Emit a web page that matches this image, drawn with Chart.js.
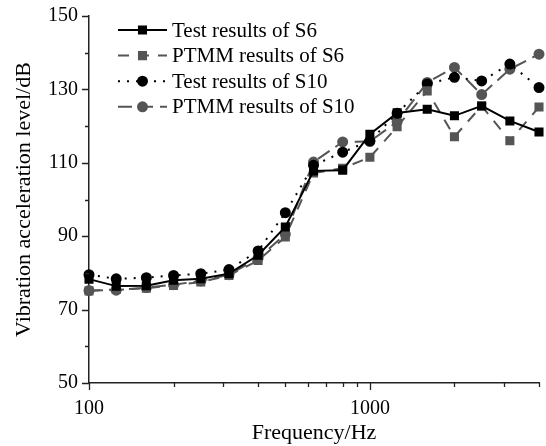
<!DOCTYPE html>
<html>
<head>
<meta charset="utf-8">
<script src="https://cdn.jsdelivr.net/npm/chart.js@4.4.1/dist/chart.umd.min.js"></script>
<style>
  body { margin: 0; background: #fff; }
  #wrap { width: 546px; height: 446px; }
</style>
</head>
<body>
<div id="wrap"><canvas id="vib-chart" width="546" height="446"></canvas></div>
<script>
// 1/3 octave band centre frequencies (Hz)
const freqs = [100, 125, 160, 200, 250, 315, 400, 500, 630, 800, 1000, 1250, 1600, 2000, 2500, 3150, 4000];

// vibration acceleration level, dB
const testS6  = [78.3, 76.4, 76.5, 78.0, 78.4, 79.8, 84.8, 92.5, 107.8, 108.0, 117.8, 123.6, 124.6, 122.8, 125.5, 121.4, 118.4];
const ptmmS6  = [75.1, 75.5, 75.8, 76.6, 77.5, 79.3, 83.4, 89.8, 107.2, 108.5, 111.5, 119.8, 129.6, 117.1, 125.5, 116.0, 125.2];
const testS10 = [79.5, 78.4, 78.7, 79.3, 79.8, 80.9, 86.0, 96.4, 109.3, 112.9, 116.0, 123.5, 131.5, 133.3, 132.3, 136.9, 130.5];
const ptmmS10 = [75.2, 75.3, 76.0, 76.8, 77.8, 79.5, 84.0, 90.5, 110.2, 115.7, 115.8, 121.2, 131.9, 136.0, 128.6, 135.5, 139.6];

const xMajorTicks = [100, 1000];
const xMinorTicks = [200, 300, 400, 500, 600, 700, 800, 900, 2000, 3000, 4000];
const yMajorTicks = [50, 70, 90, 110, 130, 150];
const yMinorTicks = [60, 80, 100, 120, 140];

const serif = "'Liberation Serif', 'Times New Roman', serif";

function pts(vals) {
  return freqs.map((f, i) => ({ x: f, y: vals[i] }));
}

// tick marks (major long, minor short) drawn outside the axes
const axisTicks = {
  id: 'axisTicks',
  afterDraw(chart) {
    const ctx = chart.ctx;
    const xs = chart.scales.x, ys = chart.scales.y;
    ctx.save();
    ctx.strokeStyle = '#222';
    ctx.lineWidth = 1.3;
    ctx.beginPath();
    xMajorTicks.forEach(v => { const p = Math.round(xs.getPixelForValue(v)) + 0.5; ctx.moveTo(p, xs.top); ctx.lineTo(p, xs.top + 7); });
    xMinorTicks.forEach(v => { const p = Math.round(xs.getPixelForValue(v)) + 0.5; ctx.moveTo(p, xs.top); ctx.lineTo(p, xs.top + 4); });
    yMajorTicks.forEach(v => { const p = Math.round(ys.getPixelForValue(v)) + 0.5; ctx.moveTo(ys.right, p); ctx.lineTo(ys.right - 7, p); });
    yMinorTicks.forEach(v => { const p = Math.round(ys.getPixelForValue(v)) + 0.5; ctx.moveTo(ys.right, p); ctx.lineTo(ys.right - 4, p); });
    ctx.stroke();
    ctx.restore();
  }
};

// legend in the top-left corner: line sample with marker, then the label
const cornerLegend = {
  id: 'cornerLegend',
  afterDraw(chart) {
    const ctx = chart.ctx;
    const x0 = 118, x1 = 167, tx = 172;
    let y = 30;
    ctx.save();
    chart.data.datasets.forEach(ds => {
      ctx.strokeStyle = ds.borderColor;
      ctx.lineWidth = ds.borderWidth;
      ctx.setLineDash(ds.borderDash || []);
      ctx.beginPath();
      ctx.moveTo(x0, y);
      ctx.lineTo(x1, y);
      ctx.stroke();
      ctx.setLineDash([]);
      ctx.fillStyle = ds.pointBackgroundColor;
      ctx.strokeStyle = ds.pointBackgroundColor;
      Chart.helpers.drawPoint(ctx, { pointStyle: ds.pointStyle, radius: ds.pointRadius, borderWidth: 1, rotation: 0 }, (x0 + x1) / 2, y);
      ctx.fillStyle = '#000';
      ctx.font = "21px " + serif;
      ctx.textBaseline = 'middle';
      ctx.fillText(ds.label, tx, y + 1);
      y += 25.6;
    });
    ctx.restore();
  }
};

new Chart(document.getElementById('vib-chart'), {
  type: 'line',
  data: {
    datasets: [
      {
        label: 'Test results of S6',
        data: pts(testS6),
        borderColor: '#000',
        borderWidth: 2,
        pointStyle: 'rect',
        pointRadius: 5,
        pointBackgroundColor: '#000',
        pointBorderColor: '#000',
        clip: false
      },
      {
        label: 'PTMM results of S6',
        data: pts(ptmmS6),
        borderColor: '#555',
        borderWidth: 2,
        borderDash: [11, 9],
        pointStyle: 'rect',
        pointRadius: 5,
        pointBackgroundColor: '#555',
        pointBorderColor: '#555',
        clip: false
      },
      {
        label: 'Test results of S10',
        data: pts(testS10),
        borderColor: '#000',
        borderWidth: 2,
        borderDash: [2, 7],
        pointStyle: 'circle',
        pointRadius: 4.5,
        pointBackgroundColor: '#000',
        pointBorderColor: '#000',
        clip: false
      },
      {
        label: 'PTMM results of S10',
        data: pts(ptmmS10),
        borderColor: '#555',
        borderWidth: 2,
        borderDash: [14, 7],
        pointStyle: 'circle',
        pointRadius: 4.5,
        pointBackgroundColor: '#555',
        pointBorderColor: '#555',
        clip: false
      }
    ]
  },
  options: {
    responsive: false,
    animation: false,
    events: [],
    layout: { padding: { top: 15, right: 2, left: 0, bottom: 0 } },
    plugins: {
      legend: { display: false },
      tooltip: { enabled: false }
    },
    elements: { line: { tension: 0 } },
    scales: {
      x: {
        type: 'logarithmic',
        min: 100,
        max: 4000,
        afterBuildTicks: s => { s.ticks = xMajorTicks.map(v => ({ value: v })); },
        afterFit: s => { s.height = 63; },
        grid: { display: false, drawTicks: true, tickLength: 7 },
        border: { display: true, color: '#222', width: 1.5 },
        ticks: {
          color: '#000',
          font: { family: serif, size: 20 },
          padding: 7,
          maxRotation: 0,
          autoSkip: false,
          callback: v => String(v)
        },
        title: {
          display: true,
          text: 'Frequency/Hz',
          color: '#000',
          font: { family: serif, size: 22 },
          padding: { top: 0, bottom: 0 }
        }
      },
      y: {
        min: 50,
        max: 150,
        afterBuildTicks: s => { s.ticks = yMajorTicks.map(v => ({ value: v })); },
        afterFit: s => { s.width = 89; },
        grid: { display: false, drawTicks: true, tickLength: 7 },
        border: { display: true, color: '#222', width: 1.5 },
        ticks: {
          color: '#000',
          font: { family: serif, size: 20 },
          padding: 4
        },
        title: {
          display: true,
          text: 'Vibration acceleration level/dB',
          color: '#000',
          font: { family: serif, size: 22 },
          padding: { top: 11, bottom: 0 }
        }
      }
    }
  },
  plugins: [axisTicks, cornerLegend]
});
</script>
</body>
</html>
